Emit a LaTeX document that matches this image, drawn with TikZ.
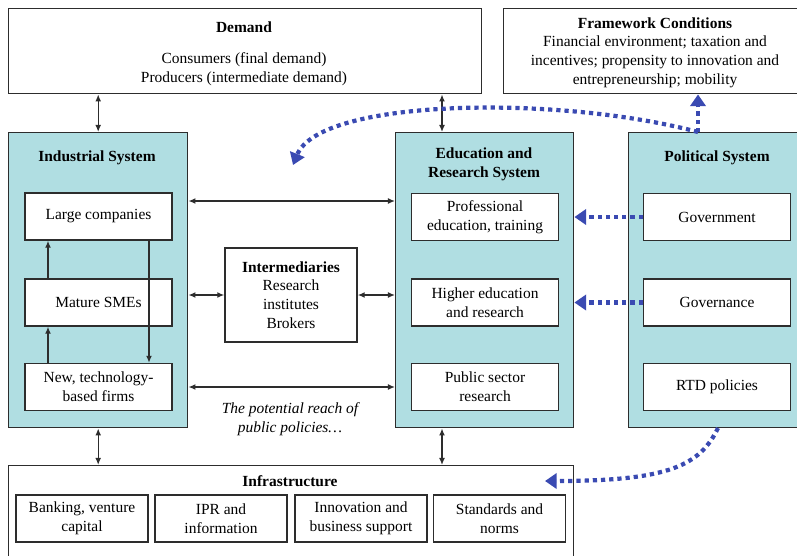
\documentclass[tikz,border=0pt]{standalone}
\usepackage{fontspec}
\setmainfont{Liberation Serif}
\usetikzlibrary{arrows.meta}

\definecolor{sysfill}{RGB}{176,222,226}
\definecolor{policyblue}{RGB}{58,74,178}
\definecolor{framegray}{RGB}{45,45,45}
\newcommand{\pw}{0.03cm}

\begin{document}
\begin{tikzpicture}[x=0.03cm, y=-0.03cm, >={Latex[length=6pt,width=5pt]},
  font=\fontsize{13.2}{16}\selectfont,
  box/.style={draw=framegray, line width=1.2pt, fill=white, inner sep=0pt},
  sysbox/.style={box, fill=sysfill},
  unit/.style={box, minimum width=147*\pw, minimum height=47*\pw, align=center},
  infraunit/.style={box, minimum width=132*\pw, minimum height=47*\pw, align=center},
  link/.style={<->, line width=1.1pt, framegray},
  steplink/.style={->, line width=1.1pt, framegray},
  policy/.style={-{Triangle[length=10pt,width=13pt]}, policyblue, line width=3.6pt, dash pattern=on 3.6pt off 3.4pt},
  title/.style={font=\fontsize{13.2}{16}\selectfont\bfseries, align=center}]

  \useasboundingbox (0,0) rectangle (797,555);

  % outer boxes
  \node[box, anchor=north west, minimum width=473*\pw, minimum height=85*\pw] (demand) at (8,8) {};
  \node[box, anchor=north west, minimum width=300*\pw, minimum height=85*\pw] (frame) at (503,8) {};
  \node[sysbox, anchor=north west, minimum width=179*\pw, minimum height=295*\pw] (ind) at (8,132) {};
  \node[sysbox, anchor=north west, minimum width=178*\pw, minimum height=295*\pw] (edu) at (395,132) {};
  \node[sysbox, anchor=north west, minimum width=175*\pw, minimum height=295*\pw] (pol) at (628,132) {};
  \node[box, anchor=north west, minimum width=565*\pw, minimum height=100*\pw] (infra) at (8,465) {};

  % titles and texts
  \node[title] (demandtitle) at (244,27) {Demand};
  \node[align=center] (demandtext) at (244,69) {Consumers (final demand)\\Producers (intermediate demand)};
  \node[title] (frametitle) at (655,23) {Framework Conditions};
  \node[align=center] (frametext) at (655,62) {Financial environment; taxation and\\incentives; propensity to innovation and\\entrepreneurship; mobility};
  \node[title] (indtitle) at (97,158) {Industrial System};
  \node[title] (edutitle) at (484,164) {Education and\\Research System};
  \node[title] (poltitle) at (717,158) {Political System};
  \node[title] (infratitle) at (290,481) {Infrastructure};
  \node[align=center, font=\fontsize{13.2}{16}\selectfont\itshape] (reach) at (290,419) {The potential reach of\\public policies\ldots};

  % industrial system
  \node[unit] (large) at (98.5,216.5) {Large companies};
  \node[unit] (mature) at (98.5,302.5) {Mature SMEs};
  \node[unit] (newfirms) at (98.5,387) {New, technology-\\based firms};

  % intermediaries
  \node[box, align=center, minimum width=132*\pw, minimum height=94*\pw] (inter) at (291,295) {\textbf{Intermediaries}\\Research\\institutes\\Brokers};

  % education and research system
  \node[unit] (prof) at (485,217) {Professional\\education, training};
  \node[unit] (higher) at (485,302.5) {Higher education\\and research};
  \node[unit] (public) at (485,387) {Public sector\\research};

  % political system
  \node[unit] (gov) at (717,217) {Government};
  \node[unit] (governance) at (717,302.5) {Governance};
  \node[unit] (rtd) at (717,387) {RTD policies};

  % infrastructure
  \node[infraunit] (banking) at (82,518.5) {Banking, venture\\capital};
  \node[infraunit] (ipr) at (221,518.5) {IPR and\\information};
  \node[infraunit] (support) at (361,518.5) {Innovation and\\business support};
  \node[infraunit] (norms) at (499.5,518.5) {Standards and\\norms};

  % helper coordinates
  \coordinate (eduaxis) at (442,0);
  \coordinate (toplink) at (0,201);
  \coordinate (upaxis) at (48,0);
  \coordinate (downaxis) at (149,0);
  \coordinate (polout) at (698,132);
  \coordinate (reachend) at (293,165);
  \coordinate (polbottom) at (718,428);
  \coordinate (infraend) at (545,481);

  % black links
  \draw[link] (demand.south -| ind.north) -- (ind.north);
  \draw[link] (demand.south -| eduaxis) -- (edu.north -| eduaxis);
  \draw[link] (ind.south) -- (infra.north -| ind.south);
  \draw[link] (edu.south -| eduaxis) -- (infra.north -| eduaxis);
  \draw[link] (toplink -| ind.east) -- (toplink -| edu.west);
  \draw[link] (inter.west -| ind.east) -- (inter.west);
  \draw[link] (inter.east) -- (inter.east -| edu.west);
  \draw[link] (newfirms.east -| ind.east) -- (newfirms.east -| edu.west);
  \draw[steplink] (mature.north -| upaxis) -- (large.south -| upaxis);
  \draw[steplink] (newfirms.north -| upaxis) -- (mature.south -| upaxis);
  \draw[steplink] (large.south -| downaxis) -- (newfirms.north -| downaxis);

  % policy arrows
  \draw[policy] (gov.west) -- (gov.west -| edu.east);
  \draw[policy] (governance.west) -- (governance.west -| edu.east);
  \draw[policy] (polout) -- (polout |- frame.south);
  \draw[policy] (polout) .. controls (560,95) and (320,98) .. (reachend);
  \draw[policy] (polbottom) .. controls (700,465) and (670,481) .. (infraend);
\end{tikzpicture}
\end{document}
